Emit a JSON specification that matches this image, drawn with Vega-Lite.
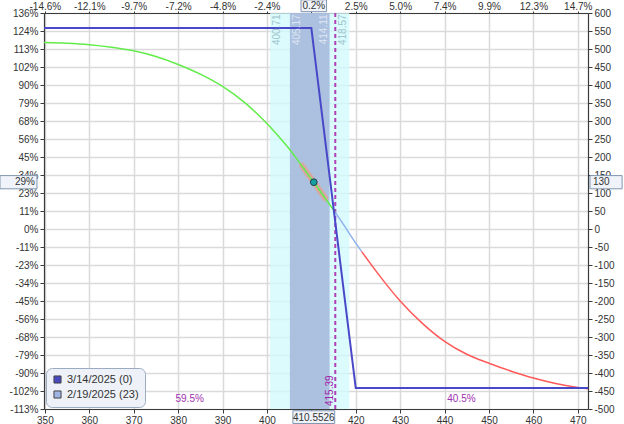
{
  "$schema": "https://vega.github.io/schema/vega-lite/v6.json",
  "width": 544,
  "height": 396,
  "autosize": {"type": "none"},
  "padding": {"left": 44, "top": 13, "right": 36, "bottom": 15},
  "background": "white",
  "config": {
    "view": {"stroke": null},
    "font": "Liberation Sans",
    "axis": {
      "domainColor": "#3a3a3a", "domainWidth": 1.2,
      "tickColor": "#3a3a3a", "tickSize": 4,
      "labelColor": "#333333", "labelFont": "Liberation Sans", "labelFontSize": 10,
      "labelPadding": 2, "gridColor": "#dadada", "gridWidth": 1.5,
      "labelFlush": false, "labelOverlap": false
    },
    "text": {"font": "Liberation Sans", "fontSize": 10}
  },
  "datasets": {
    "bands": [
      {"band": "outer", "lo": 400.71, "hi": 418.57},
      {"band": "inner", "lo": 405.17, "hi": 414.11}
    ],
    "strikes": [
      {"strike": 400.71, "band": "outer", "side": "low"},
      {"strike": 405.17, "band": "inner", "side": "low"},
      {"strike": 414.11, "band": "inner", "side": "high"},
      {"strike": 418.57, "band": "outer", "side": "high"}
    ],
    "exp": [
      {"price": 349.8, "pl": 558},
      {"price": 410, "pl": 558},
      {"price": 420, "pl": -442},
      {"price": 472.3, "pl": -442}
    ],
    "t0": [
      {"price": 349.8, "pl": 518, "seg": "below"},
      {"price": 355, "pl": 516, "seg": "below"},
      {"price": 360, "pl": 512, "seg": "below"},
      {"price": 365, "pl": 505, "seg": "below"},
      {"price": 370, "pl": 495, "seg": "below"},
      {"price": 375, "pl": 479, "seg": "below"},
      {"price": 380, "pl": 457, "seg": "below"},
      {"price": 385, "pl": 430, "seg": "below"},
      {"price": 390, "pl": 396, "seg": "below"},
      {"price": 395, "pl": 351, "seg": "below"},
      {"price": 400, "pl": 293, "seg": "below"},
      {"price": 403, "pl": 252, "seg": "below"},
      {"price": 405, "pl": 223, "seg": "below"},
      {"price": 407, "pl": 190, "seg": "below"},
      {"price": 409, "pl": 156, "seg": "below"},
      {"price": 410.55, "pl": 130, "seg": "below"},
      {"price": 412, "pl": 105, "seg": "below"},
      {"price": 414, "pl": 70, "seg": "below"},
      {"price": 415.4, "pl": 46, "seg": "below"},
      {"price": 415.4, "pl": 46, "seg": "mid"},
      {"price": 417.6, "pl": 6, "seg": "mid"},
      {"price": 419.5, "pl": -30, "seg": "mid"},
      {"price": 421.3, "pl": -62, "seg": "mid"},
      {"price": 421.3, "pl": -62, "seg": "above"},
      {"price": 425, "pl": -124, "seg": "above"},
      {"price": 430, "pl": -200, "seg": "above"},
      {"price": 435, "pl": -262, "seg": "above"},
      {"price": 440, "pl": -312, "seg": "above"},
      {"price": 445, "pl": -348, "seg": "above"},
      {"price": 450, "pl": -373, "seg": "above"},
      {"price": 455, "pl": -395, "seg": "above"},
      {"price": 460, "pl": -414, "seg": "above"},
      {"price": 465, "pl": -429, "seg": "above"},
      {"price": 470, "pl": -440, "seg": "above"},
      {"price": 472.3, "pl": -444, "seg": "above"}
    ],
    "tangent": [
      {"price": 407.9, "pl": 176},
      {"price": 413.1, "pl": 86}
    ],
    "cursor": [
      {"price": 410.5526, "pl": 130, "move": "0.2%", "plpct": "29%"}
    ],
    "be": [{"price": 415.39}],
    "prob": [
      {"price": 382.6, "prob": "59.5%"},
      {"price": 443.8, "prob": "40.5%"}
    ]
  },
  "layer": [
    {
      "data": {"name": "bands"},
      "transform": [{"filter": "datum.band == 'outer'"}],
      "mark": {"type": "rect", "color": "#d2fafc", "opacity": 0.78},
      "encoding": {
        "x": {"field": "lo", "type": "quantitative", "scale": {"domain": [349.8, 472.3], "nice": false, "zero": false}, "axis": null},
        "x2": {"field": "hi"}
      }
    },
    {
      "data": {"name": "bands"},
      "transform": [{"filter": "datum.band == 'inner'"}],
      "mark": {"type": "rect", "color": "#a6badb", "opacity": 0.9},
      "encoding": {
        "x": {"field": "lo", "type": "quantitative", "scale": {"domain": [349.8, 472.3], "nice": false, "zero": false}, "axis": null},
        "x2": {"field": "hi"}
      }
    },
    {
      "mark": {"type": "rule", "color": "#404040", "strokeWidth": 1.5},
      "encoding": {
        "y": {"datum": 0, "type": "quantitative", "scale": {"domain": [-500, 600], "nice": false, "zero": false}, "axis": null}
      }
    },
    {
      "data": {"name": "be"},
      "mark": {"type": "rule", "color": "#b040b8", "strokeWidth": 2, "strokeDash": [4, 3]},
      "encoding": {
        "x": {"field": "price", "type": "quantitative", "scale": {"domain": [349.8, 472.3], "nice": false, "zero": false}, "axis": null}
      }
    },
    {
      "data": {"name": "tangent"},
      "mark": {"type": "line", "color": "#f09a80", "opacity": 0.65, "strokeWidth": 6, "strokeCap": "round"},
      "encoding": {
        "x": {"field": "price", "type": "quantitative", "scale": {"domain": [349.8, 472.3], "nice": false, "zero": false}, "axis": null},
        "y": {"field": "pl", "type": "quantitative", "scale": {"domain": [-500, 600], "nice": false, "zero": false}, "axis": null}
      }
    },
    {
      "data": {"name": "t0"},
      "mark": {"type": "line", "strokeWidth": 1.5, "interpolate": "monotone"},
      "encoding": {
        "x": {"field": "price", "type": "quantitative", "scale": {"domain": [349.8, 472.3], "nice": false, "zero": false},
          "axis": {"orient": "top", "title": null, "grid": false, "tickSize": 2, "labelPadding": 0, "values": [350, 360, 370, 380, 390, 400, 410, 420, 430, 440, 450, 460, 470],
            "labelExpr": "['-14.6%','-12.1%','-9.7%','-7.2%','-4.8%','-2.4%','','2.5%','5.0%','7.4%','9.9%','12.3%','14.7%'][round((datum.value-350)/10)]"}},
        "y": {"field": "pl", "type": "quantitative", "scale": {"domain": [-500, 600], "nice": false, "zero": false},
          "axis": {"orient": "right", "title": null, "grid": false, "values": [-500, -450, -400, -350, -300, -250, -200, -150, -100, -50, 0, 50, 100, 150, 200, 250, 300, 350, 400, 450, 500, 550, 600],
            "labelExpr": "'' + datum.value"}},
        "color": {"field": "seg", "type": "nominal", "scale": {"domain": ["below", "mid", "above"], "range": ["#62ec4a", "#8fb2ee", "#ff5a5a"]}, "legend": null}
      }
    },
    {
      "data": {"name": "exp"},
      "mark": {"type": "line", "color": "#4848c8", "strokeWidth": 2},
      "encoding": {
        "x": {"field": "price", "type": "quantitative", "scale": {"domain": [349.8, 472.3], "nice": false, "zero": false},
          "axis": {"orient": "bottom", "title": null, "grid": true, "values": [350, 360, 370, 380, 390, 400, 410, 420, 430, 440, 450, 460, 470],
            "labelExpr": "datum.value == 410 ? '' : datum.label"}},
        "y": {"field": "pl", "type": "quantitative", "scale": {"domain": [-500, 600], "nice": false, "zero": false},
          "axis": {"orient": "left", "title": null, "grid": true, "values": [-500, -450, -400, -350, -300, -250, -200, -150, -100, -50, 0, 50, 100, 150, 200, 250, 300, 350, 400, 450, 500, 550, 600],
            "labelExpr": "['-113%','-102%','-90%','-79%','-68%','-56%','-45%','-34%','-23%','-11%','0%','11%','23%','34%','45%','56%','68%','79%','90%','102%','113%','124%','136%'][round((datum.value+500)/50)]"}}
      }
    },
    {
      "data": {"name": "cursor"},
      "mark": {"type": "point", "filled": true, "fill": "#17a0a0", "stroke": "#1d3d4d", "strokeWidth": 1, "size": 45, "opacity": 1},
      "encoding": {
        "x": {"field": "price", "type": "quantitative", "scale": {"domain": [349.8, 472.3], "nice": false, "zero": false}, "axis": null},
        "y": {"field": "pl", "type": "quantitative", "scale": {"domain": [-500, 600], "nice": false, "zero": false}, "axis": null}
      }
    },
    {
      "data": {"name": "strikes"},
      "transform": [{"filter": "datum.side == 'low'"}],
      "mark": {"type": "text", "angle": 270, "align": "right", "baseline": "middle", "dy": 7, "fontSize": 10},
      "encoding": {
        "x": {"field": "strike", "type": "quantitative", "scale": {"domain": [349.8, 472.3], "nice": false, "zero": false}, "axis": null},
        "y": {"datum": 596, "type": "quantitative", "scale": {"domain": [-500, 600], "nice": false, "zero": false}, "axis": null},
        "text": {"field": "strike", "type": "quantitative", "format": ".2f"},
        "color": {"condition": {"test": "datum.band == 'outer'", "value": "#9cc4cc"}, "value": "#dde5f4"}
      }
    },
    {
      "data": {"name": "strikes"},
      "transform": [{"filter": "datum.side == 'high'"}],
      "mark": {"type": "text", "angle": 270, "align": "right", "baseline": "middle", "dy": -6, "fontSize": 10},
      "encoding": {
        "x": {"field": "strike", "type": "quantitative", "scale": {"domain": [349.8, 472.3], "nice": false, "zero": false}, "axis": null},
        "y": {"datum": 596, "type": "quantitative", "scale": {"domain": [-500, 600], "nice": false, "zero": false}, "axis": null},
        "text": {"field": "strike", "type": "quantitative", "format": ".2f"},
        "color": {"condition": {"test": "datum.band == 'outer'", "value": "#9cc4cc"}, "value": "#dde5f4"}
      }
    },
    {
      "data": {"name": "be"},
      "mark": {"type": "text", "angle": 270, "align": "left", "baseline": "middle", "dx": 3, "dy": -5, "fontSize": 10, "color": "#a020a8"},
      "encoding": {
        "x": {"field": "price", "type": "quantitative", "scale": {"domain": [349.8, 472.3], "nice": false, "zero": false}, "axis": null},
        "y": {"datum": -500, "type": "quantitative", "scale": {"domain": [-500, 600], "nice": false, "zero": false}, "axis": null},
        "text": {"field": "price", "type": "quantitative", "format": ".2f"}
      }
    },
    {
      "data": {"name": "prob"},
      "mark": {"type": "text", "align": "center", "baseline": "middle", "dy": -10, "fontSize": 10, "color": "#a030b0"},
      "encoding": {
        "x": {"field": "price", "type": "quantitative", "scale": {"domain": [349.8, 472.3], "nice": false, "zero": false}, "axis": null},
        "y": {"datum": -500, "type": "quantitative", "scale": {"domain": [-500, 600], "nice": false, "zero": false}, "axis": null},
        "text": {"field": "prob", "type": "nominal"}
      }
    },
    {
      "data": {"name": "cursor"},
      "mark": {"type": "point", "shape": "M-0.95,0.08L0.95,0.08L0.95,0.66L-0.95,0.66Z", "size": 1936, "filled": true, "fill": "#f0f4fa", "stroke": "#8096b0", "strokeWidth": 1, "opacity": 1},
      "encoding": {
        "x": {"field": "price", "type": "quantitative", "scale": {"domain": [349.8, 472.3], "nice": false, "zero": false}, "axis": null},
        "y": {"datum": -500, "type": "quantitative", "scale": {"domain": [-500, 600], "nice": false, "zero": false}, "axis": null}
      }
    },
    {
      "data": {"name": "cursor"},
      "mark": {"type": "text", "align": "center", "baseline": "middle", "dy": 8.5, "fontSize": 10, "color": "#333333"},
      "encoding": {
        "x": {"field": "price", "type": "quantitative", "scale": {"domain": [349.8, 472.3], "nice": false, "zero": false}, "axis": null},
        "y": {"datum": -500, "type": "quantitative", "scale": {"domain": [-500, 600], "nice": false, "zero": false}, "axis": null},
        "text": {"field": "price", "type": "quantitative", "format": ".4f"}
      }
    },
    {
      "data": {"name": "cursor"},
      "mark": {"type": "point", "shape": "M-0.58,-0.6L0.58,-0.6L0.58,-0.06L-0.58,-0.06Z", "size": 1936, "filled": true, "fill": "#f0f4fa", "stroke": "#8096b0", "strokeWidth": 1, "opacity": 1},
      "encoding": {
        "x": {"field": "price", "type": "quantitative", "scale": {"domain": [349.8, 472.3], "nice": false, "zero": false}, "axis": null},
        "y": {"datum": 600, "type": "quantitative", "scale": {"domain": [-500, 600], "nice": false, "zero": false}, "axis": null}
      }
    },
    {
      "data": {"name": "cursor"},
      "mark": {"type": "text", "align": "center", "baseline": "middle", "dy": -7, "fontSize": 10, "color": "#333333"},
      "encoding": {
        "x": {"field": "price", "type": "quantitative", "scale": {"domain": [349.8, 472.3], "nice": false, "zero": false}, "axis": null},
        "y": {"datum": 600, "type": "quantitative", "scale": {"domain": [-500, 600], "nice": false, "zero": false}, "axis": null},
        "text": {"field": "move", "type": "nominal"}
      }
    },
    {
      "data": {"name": "cursor"},
      "mark": {"type": "point", "shape": "M-2.0,-0.3L-0.32,-0.3L-0.32,0.3L-2.0,0.3Z", "size": 1936, "filled": true, "fill": "#f0f4fa", "stroke": "#8096b0", "strokeWidth": 1, "opacity": 1},
      "encoding": {
        "x": {"datum": 349.8, "type": "quantitative", "scale": {"domain": [349.8, 472.3], "nice": false, "zero": false}, "axis": null},
        "y": {"field": "pl", "type": "quantitative", "scale": {"domain": [-500, 600], "nice": false, "zero": false}, "axis": null}
      }
    },
    {
      "data": {"name": "cursor"},
      "mark": {"type": "text", "align": "right", "baseline": "middle", "dx": -9, "fontSize": 10, "color": "#333333"},
      "encoding": {
        "x": {"datum": 349.8, "type": "quantitative", "scale": {"domain": [349.8, 472.3], "nice": false, "zero": false}, "axis": null},
        "y": {"field": "pl", "type": "quantitative", "scale": {"domain": [-500, 600], "nice": false, "zero": false}, "axis": null},
        "text": {"field": "plpct", "type": "nominal"}
      }
    },
    {
      "data": {"name": "cursor"},
      "mark": {"type": "point", "shape": "M0.09,-0.3L1.55,-0.3L1.55,0.3L0.09,0.3Z", "size": 1936, "filled": true, "fill": "#f0f4fa", "stroke": "#8096b0", "strokeWidth": 1, "opacity": 1},
      "encoding": {
        "x": {"datum": 472.3, "type": "quantitative", "scale": {"domain": [349.8, 472.3], "nice": false, "zero": false}, "axis": null},
        "y": {"field": "pl", "type": "quantitative", "scale": {"domain": [-500, 600], "nice": false, "zero": false}, "axis": null}
      }
    },
    {
      "data": {"name": "cursor"},
      "mark": {"type": "text", "align": "left", "baseline": "middle", "dx": 5, "fontSize": 10, "color": "#333333"},
      "encoding": {
        "x": {"datum": 472.3, "type": "quantitative", "scale": {"domain": [349.8, 472.3], "nice": false, "zero": false}, "axis": null},
        "y": {"field": "pl", "type": "quantitative", "scale": {"domain": [-500, 600], "nice": false, "zero": false}, "axis": null},
        "text": {"field": "pl", "type": "quantitative"}
      }
    },
    {
      "data": {"values": [{"series": "3/14/2025 (0)"}, {"series": "2/19/2025 (23)"}]},
      "mark": {"type": "point", "filled": true, "size": 0},
      "encoding": {
        "fill": {"field": "series", "type": "nominal",
          "scale": {"domain": ["3/14/2025 (0)", "2/19/2025 (23)"], "range": ["#4a4ac0", "#9fb6e4"]},
          "legend": {"orient": "bottom-left", "offset": 2, "title": null, "symbolType": "square", "symbolSize": 50,
            "symbolOpacity": 1, "symbolStrokeColor": "#444444", "symbolStrokeWidth": 1,
            "fillColor": "#eef2f8", "strokeColor": "#9aabc2", "cornerRadius": 6, "padding": 6,
            "labelFont": "Liberation Sans", "labelFontSize": 11, "labelColor": "#333333", "rowPadding": 2, "labelOffset": 4}}
      }
    }
  ],
  "resolve": {"axis": {"x": "independent", "y": "independent"}}
}
